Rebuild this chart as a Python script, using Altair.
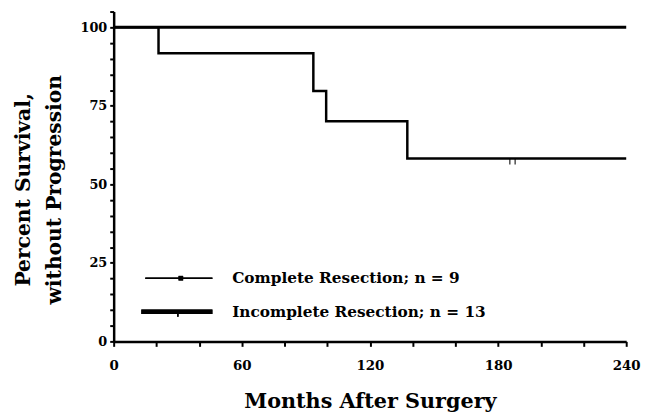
import altair as alt
import pandas as pd

# Kaplan-Meier data
complete_time = [0, 240]
complete_surv = [100, 100]
incomplete_time = [0, 21, 93.5, 99.5, 137.5, 240]
incomplete_surv = [100, 91.7, 79.7, 70.1, 58.2, 58.2]
censor_time = [185.5, 188]
censor_surv = [58.2, 58.2]

legend_labels = ["Complete Resection; n = 9", "Incomplete Resection; n = 13"]
y_title = ["Percent Survival,", "without Progression"]
x_title = "Months After Surgery"
x_ticks = list(range(0, 241, 20))
y_ticks = list(range(0, 106, 5))

FONT = "DejaVu Serif"

df_c = pd.DataFrame({"t": complete_time, "s": complete_surv})
df_i = pd.DataFrame({"t": incomplete_time, "s": incomplete_surv})
df_cens = pd.DataFrame({"t": censor_time, "s": censor_surv})

xscale = alt.Scale(domain=[0, 240], nice=False, zero=False)
yscale = alt.Scale(domain=[0, 105], nice=False)

xaxis = alt.Axis(
    values=x_ticks,
    labelExpr="datum.value % 60 == 0 ? datum.label : ''",
    title=x_title, titleFont=FONT, titleFontSize=21, titleFontWeight="bold",
    titlePadding=19, labelFont=FONT, labelFontSize=13.5, labelFontWeight="bold",
    labelPadding=12, tickSize=5, tickWidth=2, tickColor="black",
    domainColor="black", domainWidth=2.5, grid=False, labelColor="black",
    titleColor="black", labelFlush=False, labelOverlap=False,
)
yaxis = alt.Axis(
    values=y_ticks,
    labelExpr="datum.value % 25 == 0 ? datum.label : ''",
    title=y_title, titleFont=FONT, titleFontSize=20.5, titleFontWeight="bold",
    titleLineHeight=31, titlePadding=16, titleY=180, labelFont=FONT, labelFontSize=13,
    labelFontWeight="bold", labelPadding=3, tickSize=4, tickWidth=2,
    tickColor="black", domainColor="black", domainWidth=2.5, grid=False,
    labelColor="black", titleColor="black", labelOverlap=False,
)

X = alt.X("t:Q", scale=xscale, axis=xaxis)
Y = alt.Y("s:Q", scale=yscale, axis=yaxis)

line_c = alt.Chart(df_c).mark_line(interpolate="step-after", color="black", strokeWidth=3).encode(x=X, y=Y)
line_i = alt.Chart(df_i).mark_line(interpolate="step-after", color="black", strokeWidth=2.5).encode(x=X, y=Y)
cens = alt.Chart(df_cens).mark_tick(orient="vertical", color="black", size=6, thickness=1.5, yOffset=3).encode(x=X, y=Y)

# manual legend
leg_df = pd.DataFrame({"label": legend_labels})
leg1_line = alt.Chart(leg_df).mark_rule(color="black", strokeWidth=1.5).encode(
    x=alt.value(32), x2=alt.value(100), y=alt.value(270)
)
leg1_pt = alt.Chart(leg_df).mark_square(color="black", size=22, opacity=1).encode(
    x=alt.value(68), y=alt.value(270)
)
leg2_line = alt.Chart(leg_df).mark_rule(color="black", strokeWidth=4.5).encode(
    x=alt.value(28), x2=alt.value(100), y=alt.value(304)
)
leg2_tick = alt.Chart(leg_df).mark_rule(color="black", strokeWidth=1.5).encode(
    x=alt.value(65), y=alt.value(304), y2=alt.value(309)
)
leg1_txt = alt.Chart(leg_df).transform_filter(alt.datum.label == legend_labels[0]).mark_text(
    align="left", baseline="middle", font=FONT, fontSize=15.5, fontWeight="bold", color="black"
).encode(x=alt.value(120), y=alt.value(270), text="label:N")
leg2_txt = alt.Chart(leg_df).transform_filter(alt.datum.label == legend_labels[1]).mark_text(
    align="left", baseline="middle", font=FONT, fontSize=15.5, fontWeight="bold", color="black"
).encode(x=alt.value(120), y=alt.value(304), text="label:N")

chart = alt.layer(
    line_c, line_i, cens, leg1_line, leg1_pt, leg2_line, leg2_tick, leg1_txt, leg2_txt
).properties(
    width=519, height=334,
    autosize=alt.AutoSizeParams(type="none"),
    padding={"left": 107, "top": 1, "right": 17, "bottom": 78},
    background="white",
).configure_view(stroke=None)

chart.save("out.html", embed_options={"renderer": "svg", "actions": False})
